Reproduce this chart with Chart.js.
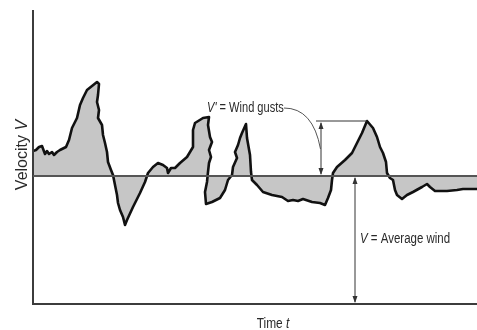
<!DOCTYPE html>
<html>
<head>
<meta charset="utf-8">
<script src="https://cdn.jsdelivr.net/npm/chart.js@4"></script>
<style>
    html, body { margin: 0; padding: 0; background: #fff; }
    #wrap { width: 477px; height: 330px; position: relative; }
</style>
</head>
<body>
<div id="wrap"><canvas id="windChart"></canvas></div>
<script>
// Time t (arbitrary units) and velocity V readings of the gust trace
const timeValues = [
    0, 3, 6, 9, 12, 14, 16, 19, 21, 24, 27, 33, 36, 39, 44, 47, 50, 54, 59, 64,
    66, 65, 64, 66, 65, 69, 70, 72, 74, 75, 78, 80, 82, 84, 85, 87, 90, 92, 94, 100,
    107, 112, 115, 120, 125, 130, 134, 135, 138, 142, 147, 154, 160, 160, 162, 170, 176, 175, 177, 179,
    176, 178, 176, 175, 174, 172, 173, 179, 187, 192, 195, 199, 200, 204, 202, 205, 207, 209, 213, 214,
    217, 218, 219, 224, 230, 239, 249, 255, 260, 265, 270, 279, 287, 292, 295, 298, 299, 300, 304, 312,
    319, 324, 329, 334, 340, 344, 347, 350, 353, 354, 357, 360, 362, 364, 369, 374, 380, 389, 394, 397,
    402, 414, 424, 430, 437, 444
];
const velocityValues = [
    153, 154, 157, 158, 150, 153, 150, 152, 149, 152, 154, 157, 164, 176, 186, 199, 206, 214, 218, 222,
    220, 209, 202, 194, 186, 179, 169, 161, 152, 142, 134, 129, 119, 109, 101, 94, 87, 79, 84, 97,
    111, 122, 131, 137, 141, 139, 136, 131, 136, 136, 141, 147, 157, 174, 181, 186, 187, 179, 167, 162,
    154, 147, 141, 132, 122, 112, 100, 102, 106, 114, 124, 129, 137, 146, 152, 159, 166, 171, 180, 166,
    149, 132, 124, 119, 112, 109, 107, 103, 104, 103, 105, 102, 101, 99, 106, 114, 124, 131, 137, 144,
    151, 161, 171, 183, 176, 167, 157, 151, 142, 131, 126, 124, 114, 109, 105, 109, 112, 117, 120, 117,
    113, 113, 114, 115, 115, 115
];

const averageWind = 128;   // V
const timeMax = 444;
const velocityMax = 294;
const gustTime = 288;      // where the V' arrow stands
const gustPeak = 183;      // top of the biggest gust
const averageTime = 322;   // where the V arrow stands

const points = timeValues.map((t, i) => ({ x: t, y: velocityValues[i] }));

// draw a run of text pieces with mixed italic / upright, squeezed by sx
function drawRuns(ctx, runs, x, y, align, sx) {
    let total = 0;
    runs.forEach(r => { ctx.font = r.font; total += ctx.measureText(r.text).width; });
    ctx.save();
    ctx.translate(x, y);
    ctx.scale(sx, 1);
    let cx = align === 'center' ? -total / 2 : 0;
    ctx.textAlign = 'left';
    ctx.textBaseline = 'middle';
    runs.forEach(r => {
        ctx.font = r.font;
        ctx.fillText(r.text, cx, 0);
        cx += ctx.measureText(r.text).width;
    });
    ctx.restore();
}

function arrowHead(ctx, x, y, dir) {
    // dir = -1 points up, 1 points down
    ctx.beginPath();
    ctx.moveTo(x, y);
    ctx.lineTo(x - 2.5, y - dir * 7);
    ctx.lineTo(x + 2.5, y - dir * 7);
    ctx.closePath();
    ctx.fill();
}

const family = "'Liberation Sans', Arial, sans-serif";

const diagramPlugin = {
    id: 'diagram',
    afterDatasetsDraw(chart) {
        const ctx = chart.ctx;
        const xs = chart.scales.x;
        const ys = chart.scales.y;
        const area = chart.chartArea;
        const meanY = ys.getPixelForValue(averageWind);

        ctx.save();
        // axes
        ctx.strokeStyle = '#3c3c3c';
        ctx.lineWidth = 2;
        ctx.beginPath();
        ctx.moveTo(area.left, area.top);
        ctx.lineTo(area.left, area.bottom);
        ctx.lineTo(area.right, area.bottom);
        ctx.stroke();

        // average wind line
        ctx.strokeStyle = '#555';
        ctx.lineWidth = 2;
        ctx.beginPath();
        ctx.moveTo(area.left, meanY);
        ctx.lineTo(area.right, meanY);
        ctx.stroke();

        // V' arrow
        const gx = xs.getPixelForValue(gustTime);
        const gy = ys.getPixelForValue(gustPeak);
        ctx.strokeStyle = '#333';
        ctx.fillStyle = '#333';
        ctx.lineWidth = 1;
        ctx.beginPath();
        ctx.moveTo(gx, gy + 2);
        ctx.lineTo(gx, meanY - 2);
        ctx.moveTo(gx - 5, gy);
        ctx.lineTo(xs.getPixelForValue(334), gy);
        ctx.stroke();
        arrowHead(ctx, gx, gy + 1, -1);
        arrowHead(ctx, gx, meanY - 1, 1);

        // leader from label
        ctx.strokeStyle = '#555';
        ctx.beginPath();
        ctx.moveTo(284, 108);
        ctx.quadraticCurveTo(313, 108, gx - 0.5, gy + 28);
        ctx.stroke();

        // V arrow
        const ax = xs.getPixelForValue(averageTime);
        ctx.strokeStyle = '#333';
        ctx.beginPath();
        ctx.moveTo(ax, meanY + 2);
        ctx.lineTo(ax, area.bottom - 2);
        ctx.stroke();
        arrowHead(ctx, ax, meanY + 1, -1);
        arrowHead(ctx, ax, area.bottom - 1, 1);

        // labels
        ctx.fillStyle = '#2a2a2a';
        drawRuns(ctx, [
            { text: "V'", font: 'italic 14px ' + family },
            { text: ' = Wind gusts', font: '14px ' + family }
        ], 207, 108, 'left', 0.79);
        drawRuns(ctx, [
            { text: 'V', font: 'italic 14px ' + family },
            { text: ' = Average wind', font: '14px ' + family }
        ], 360, 239, 'left', 0.82);
        drawRuns(ctx, [
            { text: 'Time ', font: '14px ' + family },
            { text: 't', font: 'italic 14px ' + family }
        ], 273, 324, 'center', 0.85);

        ctx.translate(23, 155);
        ctx.rotate(-Math.PI / 2);
        drawRuns(ctx, [
            { text: 'Velocity ', font: '16px ' + family },
            { text: 'V', font: 'italic 16px ' + family }
        ], 0, 0, 'center', 1);
        ctx.restore();
    }
};

new Chart(document.getElementById('windChart').getContext('2d'), {
    type: 'line',
    data: {
        datasets: [{
            label: 'Velocity',
            data: points,
            borderColor: '#111',
            borderWidth: 2.6,
            borderJoinStyle: 'round',
            backgroundColor: '#c6c6c6',
            fill: { value: averageWind },
            tension: 0,
            pointRadius: 0
        }]
    },
    options: {
        responsive: true,
        maintainAspectRatio: false,
        animation: false,
        layout: {
            padding: { left: 33, right: 0, top: 10, bottom: 26 }
        },
        plugins: {
            legend: { display: false },
            tooltip: { enabled: false }
        },
        scales: {
            x: { type: 'linear', display: false, min: 0, max: timeMax },
            y: { display: false, min: 0, max: velocityMax }
        }
    },
    plugins: [diagramPlugin]
});
</script>
</body>
</html>
